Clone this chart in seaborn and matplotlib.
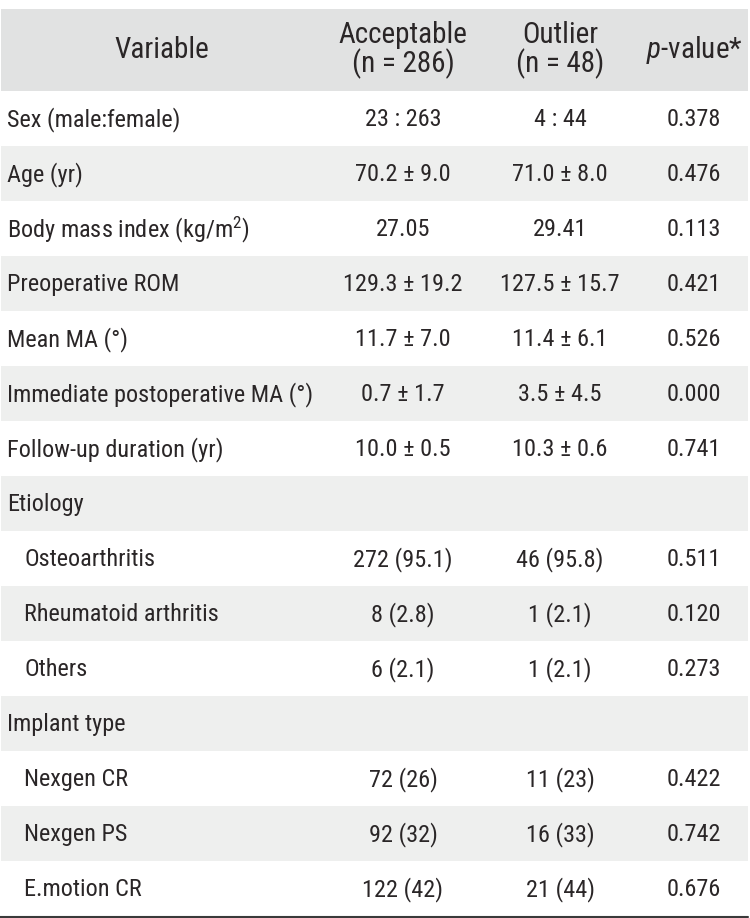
import matplotlib.pyplot as plt
import seaborn as sns

# table contents
variables = ["Sex (male:female)", "Age (yr)", "Body mass index (kg/m$^{2}$)",
             "Preoperative ROM", "Mean MA (°)", "Immediate postoperative MA (°)",
             "Follow-up duration (yr)", "Etiology", "Osteoarthritis",
             "Rheumatoid arthritis", "Others", "Implant type", "Nexgen CR",
             "Nexgen PS", "E.motion CR"]
indented = [False] * 7 + [False, True, True, True, False, True, True, True]
acceptable = ["23 : 263", "70.2 ± 9.0", "27.05", "129.3 ± 19.2", "11.7 ± 7.0",
              "0.7 ± 1.7", "10.0 ± 0.5", "", "272 (95.1)", "8 (2.8)", "6 (2.1)",
              "", "72 (26)", "92 (32)", "122 (42)"]
outlier = ["4 : 44", "71.0 ± 8.0", "29.41", "127.5 ± 15.7", "11.4 ± 6.1",
           "3.5 ± 4.5", "10.3 ± 0.6", "", "46 (95.8)", "1 (2.1)", "1 (2.1)",
           "", "11 (23)", "16 (33)", "21 (44)"]
pvalues = ["0.378", "0.476", "0.113", "0.421", "0.526", "0.000", "0.741", "",
           "0.511", "0.120", "0.273", "", "0.422", "0.742", "0.676"]
headers = ["Variable", "Acceptable\n(n = 286)", "Outlier\n(n = 48)", "$\\it{p}$-value*"]

sns.set_theme(style="white")
font = ["Roboto Condensed", "Roboto", "DejaVu Sans"]
plt.rcParams["font.family"] = font
plt.rcParams["mathtext.fontset"] = "custom"
plt.rcParams["mathtext.rm"] = "Roboto Condensed"
plt.rcParams["mathtext.it"] = "Roboto Condensed:italic"

fig = plt.figure(figsize=(7.5, 9.18), dpi=100)
ax = fig.add_axes([0, 0, 1, 1])
ax.set_xlim(0, 750)
ax.set_ylim(918, 0)
ax.axis("off")

header_top, header_bot = 9, 91
row_h = 55
col_x = [162, 403, 560, 694]
fs = 17.5
color = "#2a2627"

ax.axhspan(header_top, header_bot, xmin=1 / 750, xmax=748 / 750, color="#e1e2e2", lw=0)
for j, h in enumerate(headers):
    ax.text(col_x[j], (header_top + header_bot) / 2, h, ha="center", va="center",
            fontsize=21, color=color, linespacing=1.0)

for i, var in enumerate(variables):
    top = header_bot + i * row_h
    mid = top + row_h / 2 + 1
    if i % 2 == 1:
        ax.axhspan(top, top + row_h, xmin=1 / 750, xmax=748 / 750, color="#eeefee", lw=0)
    x0 = 24 if indented[i] else 7
    ax.text(x0, mid, var, ha="left", va="center", fontsize=fs, color=color)
    for j, val in enumerate([acceptable[i], outlier[i], pvalues[i]], start=1):
        ax.text(col_x[j], mid, val, ha="center", va="center", fontsize=fs, color=color)

ax.axhline(header_bot + len(variables) * row_h + 1, xmin=0, xmax=748 / 750,
           color="#3a3a3a", lw=1.5)

fig.savefig("out.png", dpi=100)
plt.close(fig)
